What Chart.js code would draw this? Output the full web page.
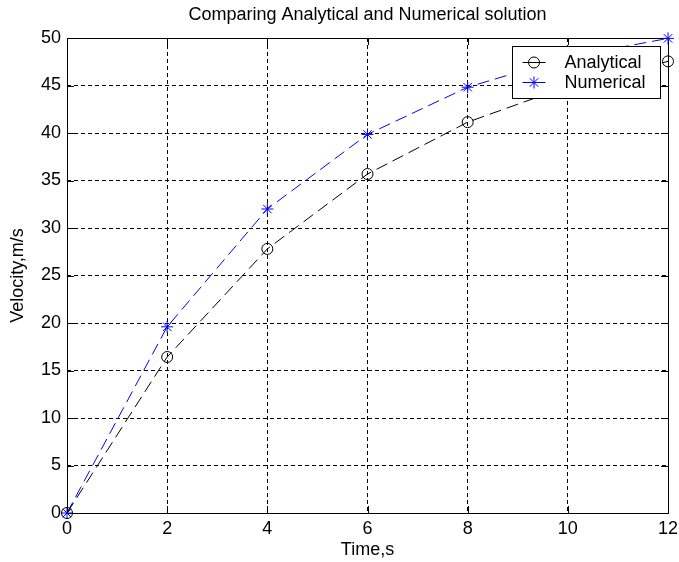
<!DOCTYPE html>
<html>
<head>
<meta charset="utf-8">
<script src="https://cdn.jsdelivr.net/npm/chart.js@4.4.0/dist/chart.umd.min.js"></script>
<style>
  html, body { margin: 0; padding: 0; background: #fff; }
  #wrap { width: 679px; height: 562px; }
</style>
</head>
<body>
<div id="wrap"><canvas id="velocityChart"></canvas></div>
<script>
// values (parachutist, analytical vs Euler, dt = 2 s)
const times = [0, 2, 4, 6, 8, 10, 12];
const analytical = [0, 16.42, 27.80, 35.68, 41.14, 44.92, 47.54];
const numerical = [0, 19.60, 32.00, 39.85, 44.82, 47.97, 49.96];

const xTicks = [0, 2, 4, 6, 8, 10, 12];
const yTicks = [0, 5, 10, 15, 20, 25, 30, 35, 40, 45, 50];

Chart.defaults.font.family = "'Liberation Sans', Arial, sans-serif";
Chart.defaults.font.size = 18;
Chart.defaults.color = "#000";

function drawMarker(ctx, style, radius, x, y, color) {
    ctx.save();
    ctx.strokeStyle = color;
    ctx.fillStyle = "transparent";
    ctx.lineWidth = 1;
    Chart.helpers.drawPoint(ctx, { pointStyle: style, radius: radius, borderWidth: 1, rotation: 0 }, x, y);
    ctx.restore();
}

// box round the axes, inward tick marks, and the boxed legend on top of the lines
const matlabAxes = {
    id: "matlabAxes",
    beforeDatasetsDraw(chart) {
        const { ctx, chartArea: a, scales } = chart;
        const len = 7;
        ctx.save();
        ctx.strokeStyle = "#000";
        ctx.lineWidth = 1;
        ctx.strokeRect(a.left + 0.5, a.top + 0.5, a.right - a.left, a.bottom - a.top);
        ctx.beginPath();
        xTicks.forEach(v => {
            const px = Math.round(scales.x.getPixelForValue(v)) + 0.5;
            ctx.moveTo(px, a.bottom); ctx.lineTo(px, a.bottom - len);
            ctx.moveTo(px, a.top); ctx.lineTo(px, a.top + len);
        });
        yTicks.forEach(v => {
            const py = Math.round(scales.y.getPixelForValue(v)) + 0.5;
            ctx.moveTo(a.left, py); ctx.lineTo(a.left + len, py);
            ctx.moveTo(a.right, py); ctx.lineTo(a.right - len, py);
        });
        ctx.stroke();
        ctx.restore();
    },
    afterDatasetsDraw(chart) {
        const { ctx, chartArea: a } = chart;
        const w = 148, h = 52;
        const x0 = Math.round(a.right - 8 - w) + 0.5;
        const y0 = Math.round(a.top + 8) + 0.5;
        ctx.save();
        ctx.fillStyle = "#fff";
        ctx.fillRect(x0, y0, w, h);
        ctx.strokeStyle = "#000";
        ctx.lineWidth = 1;
        ctx.strokeRect(x0, y0, w, h);
        ctx.font = "18px 'Liberation Sans', Arial, sans-serif";
        ctx.textBaseline = "middle";
        chart.data.datasets.forEach((ds, i) => {
            const y = y0 + 16 + i * 20;
            ctx.strokeStyle = ds.borderColor;
            ctx.beginPath();
            ctx.moveTo(x0 + 10, y);
            ctx.lineTo(x0 + 33, y);
            ctx.stroke();
            drawMarker(ctx, ds.pointStyle, ds.pointRadius, x0 + 21.5, y, ds.borderColor);
            ctx.fillStyle = "#000";
            ctx.fillText(ds.label, x0 + 52, y + 1);
        });
        ctx.restore();
    }
};

const ctx = document.getElementById("velocityChart").getContext("2d");

new Chart(ctx, {
    type: "line",
    data: {
        datasets: [
            {
                label: "Analytical",
                data: times.map((t, i) => ({ x: t, y: analytical[i] })),
                borderColor: "#000000",
                backgroundColor: "transparent",
                borderWidth: 1,
                borderDash: [12, 6],
                pointStyle: "circle",
                pointRadius: 5.5,
                pointBorderWidth: 1,
                pointBackgroundColor: "transparent",
                tension: 0,
                clip: false
            },
            {
                label: "Numerical",
                data: times.map((t, i) => ({ x: t, y: numerical[i] })),
                borderColor: "#0000ff",
                backgroundColor: "transparent",
                borderWidth: 1,
                borderDash: [12, 6],
                pointStyle: "star",
                pointRadius: 6,
                pointBorderWidth: 1,
                pointBackgroundColor: "transparent",
                tension: 0,
                clip: false
            }
        ]
    },
    options: {
        responsive: true,
        maintainAspectRatio: false,
        animation: false,
        devicePixelRatio: 1,
        layout: { padding: { left: 0, right: 11, top: 0, bottom: 0 } },
        plugins: {
            legend: { display: false },
            tooltip: { enabled: false },
            title: {
                display: true,
                fullSize: false,
                text: "Comparing Analytical and Numerical solution",
                color: "#000",
                font: { size: 18, weight: "normal" },
                padding: { top: 4, bottom: 12.4 }
            }
        },
        scales: {
            x: {
                type: "linear",
                min: 0,
                max: 12,
                afterBuildTicks: s => { s.ticks = xTicks.map(v => ({ value: v })); },
                afterFit: s => { s.height = 49; s.paddingLeft = 0; s.paddingRight = 0; },
                ticks: { padding: 5, maxRotation: 0, color: "#000" },
                grid: { color: "#000", lineWidth: 1, drawTicks: false, tickLength: 0 },
                border: { display: false, dash: [4, 3] },
                title: { display: true, text: "Time,s", color: "#000", padding: { top: 0, bottom: 1 } }
            },
            y: {
                type: "linear",
                min: 0,
                max: 50,
                afterBuildTicks: s => { s.ticks = yTicks.map(v => ({ value: v })); },
                afterFit: s => { s.width = 67; s.paddingTop = 0; s.paddingBottom = 0; },
                ticks: { padding: 6, color: "#000" },
                grid: { color: "#000", lineWidth: 1, drawTicks: false, tickLength: 0 },
                border: { display: false, dash: [4, 3] },
                title: { display: true, text: "Velocity,m/s", color: "#000", padding: { top: 7, bottom: 0 } }
            }
        }
    },
    plugins: [matlabAxes]
});
</script>
</body>
</html>
